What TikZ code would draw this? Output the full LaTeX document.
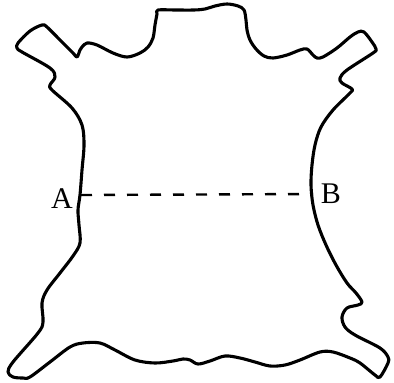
\documentclass[tikz,border=0pt]{standalone}
\usepackage{fontspec}
\setmainfont{Liberation Serif}
\begin{document}
\begin{tikzpicture}[x=1pt,y=-1pt,
  hide/.style={line width=3.1pt, line join=round, line cap=round},
  cutline/.style={line width=2.4pt, dash pattern=on 11pt off 12pt},
  pointlabel/.style={inner sep=0pt, anchor=base, font=\fontsize{30}{30}\selectfont}]
\useasboundingbox (0,0) rectangle (394,383);
% outline of the hide
\draw[hide] plot[smooth cycle, tension=0.55] coordinates {
  (158,10) (175,10) (194,10) (205,9) (215,6) (227,4) (238,6) (244,10)
  (246,20) (247,30) (250,40) (256,49) (264,56) (273,58) (287,55) (300,50)
  (307,49) (313,55) (317,58) (323,57) (337,48) (350,37) (358,32) (364,32)
  (372,42) (376,49) (373,53) (347,70) (340,78) (342,83) (352,89) (350,93)
  (333,110) (321,127) (315,145) (312,165) (311,185) (313,205) (318,225)
  (326,245) (336,265) (347,283) (356,293) (362,302) (358,305) (347,308)
  (342,317) (345,327) (355,335) (380,348) (388,357) (388,363) (380,377)
  (375,375) (360,363) (350,358) (333,352) (320,352) (300,360) (285,365)
  (270,366) (255,362) (240,358) (225,356) (210,361) (198,364) (190,360)
  (183,359) (173,361) (155,363) (135,360) (115,350) (100,343) (83,343)
  (70,347) (50,362) (30,377) (23,378) (13,377) (8,372) (13,362) (38,333)
  (43,322) (42,303) (47,290) (60,273) (73,256) (80,243) (79,225) (78,210)
  (80,195) (82,170) (84,145) (82,125) (72,108) (52,90) (50,85) (55,77)
  (50,68) (22,52) (17,48) (18,43) (30,31) (42,25) (47,27) (60,40) (73,53)
  (77,57) (80,50) (82,47) (87,43) (97,45) (113,53) (127,57) (140,53)
  (148,47) (153,38) (155,25) (157,14)};
% the line from A to B
\coordinate (pa) at (81,195);
\coordinate (pb) at (313,194);
\draw[cutline] (pa) -- (pb);
\node[pointlabel] (labA) at (62,208) {A};
\node[pointlabel] (labB) at (331,203) {B};
\end{tikzpicture}
\end{document}
